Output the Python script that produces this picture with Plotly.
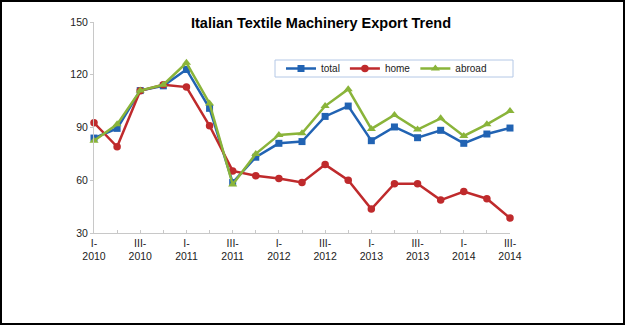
import plotly.graph_objects as go

# Quarterly index of Italian textile machinery orders, I-2010 .. III-2014
quarters = [
    "I-2010", "II-2010", "III-2010", "IV-2010",
    "I-2011", "II-2011", "III-2011", "IV-2011",
    "I-2012", "II-2012", "III-2012", "IV-2012",
    "I-2013", "II-2013", "III-2013", "IV-2013",
    "I-2014", "II-2014", "III-2014",
]
total = [84.0, 89.5, 111.0, 113.7, 123.0, 100.9, 58.7, 73.1, 81.0, 82.0,
         96.3, 102.2, 82.5, 90.3, 84.2, 88.4, 81.0, 86.3, 89.7]
home = [92.7, 79.0, 110.9, 114.3, 113.0, 91.0, 65.3, 62.5, 61.0, 58.7,
        68.9, 60.0, 43.6, 58.0, 58.0, 48.7, 53.6, 49.5, 38.5]
abroad = [82.5, 91.8, 111.0, 114.3, 126.8, 103.7, 57.6, 75.0, 85.8, 86.7,
          102.2, 111.8, 89.2, 97.1, 88.8, 95.2, 85.2, 91.8, 99.4]
y_ticks = [30, 60, 90, 120, 150]

# every other quarter gets a two-line label
tick_text = [q.replace("-", "-<br>") if i % 2 == 0 else "" for i, q in enumerate(quarters)]
x_idx = list(range(len(quarters)))

W, H = 625, 325
ML, MR, MT, MB = 94, 115, 22, 92
PW, PH = W - ML - MR, H - MT - MB


def px_x(x):
    return (x - ML) / PW


def px_y(y):
    return (H - MB - y) / PH


FONT = "Arial, 'Liberation Sans', sans-serif"

series = [
    ("total", total, "#2163b3", "square", 7),
    ("home", home, "#bf2a2c", "circle", 7.5),
    ("abroad", abroad, "#8ab43a", "triangle-up", 8),
]

fig = go.Figure()
for name, vals, color, sym, size in series:
    fig.add_trace(go.Scatter(
        x=x_idx, y=vals, name=name, mode="lines+markers",
        line=dict(color=color, width=2.5),
        marker=dict(symbol=sym, size=size, color=color),
        cliponaxis=False,
    ))

fig.update_layout(
    width=W, height=H,
    margin=dict(l=ML, r=MR, t=MT, b=MB),
    paper_bgcolor="white", plot_bgcolor="white",
    font=dict(family=FONT, color="#222222"),
    title=dict(
        text="<b>Italian Textile Machinery Export Trend</b>",
        font=dict(size=14.5, color="black", family=FONT),
        x=px_x(321), xref="paper", xanchor="center",
        y=1 - 23 / H, yref="container", yanchor="middle",
    ),
    showlegend=True,
    legend=dict(
        orientation="h",
        x=px_x(281), xanchor="left",
        y=px_y(68.5), yanchor="middle",
        bgcolor="rgba(0,0,0,0)", borderwidth=0,
        font=dict(size=10, color="#222222", family=FONT),
        itemclick=False,
    ),
    xaxis=dict(
        range=[0, len(quarters) - 1],
        tickmode="array", tickvals=x_idx, ticktext=tick_text,
        showgrid=False, zeroline=False,
        showline=True, linecolor="#c8c8c8", linewidth=1,
        ticks="inside", ticklen=3, tickcolor="#c8c8c8",
        tickfont=dict(size=10.5, color="#222222", family=FONT),
        fixedrange=True,
    ),
    yaxis=dict(
        range=[30, 150], tickvals=y_ticks,
        showgrid=False, zeroline=False,
        showline=True, linecolor="#c8c8c8", linewidth=1,
        ticks="outside", ticklen=3, tickcolor="#c8c8c8",
        tickfont=dict(size=10.5, color="#222222", family=FONT),
        fixedrange=True,
    ),
    shapes=[
        # legend frame
        dict(type="rect", xref="paper", yref="paper",
             x0=px_x(275), x1=px_x(513), y0=px_y(77), y1=px_y(60),
             line=dict(color="#b4c8e6", width=1), fillcolor="rgba(0,0,0,0)", layer="below"),
        # outer frame
        dict(type="rect", xref="paper", yref="paper",
             x0=px_x(1), x1=px_x(W - 1), y0=px_y(H - 1), y1=px_y(1),
             line=dict(color="black", width=2), fillcolor="rgba(0,0,0,0)"),
    ],
)

fig.write_html("out.html", config={"displayModeBar": False})
